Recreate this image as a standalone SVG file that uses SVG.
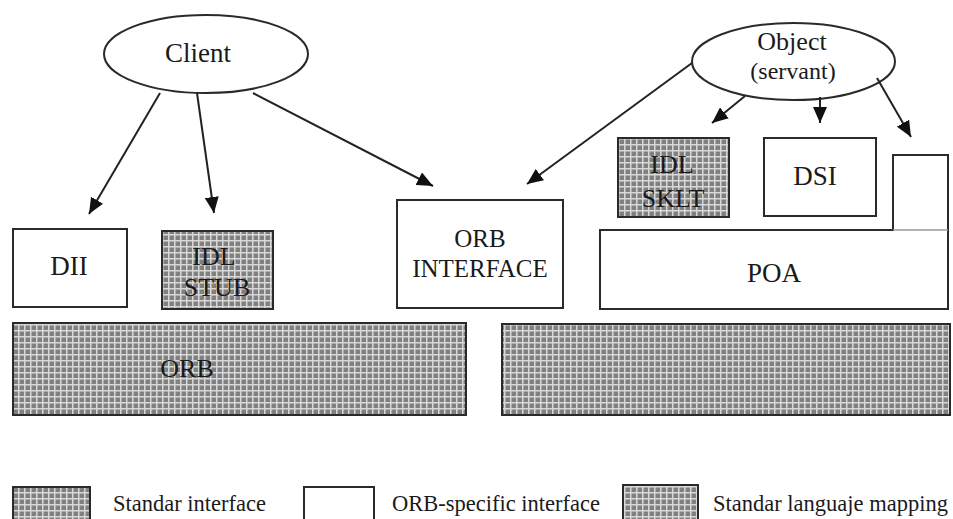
<svg xmlns="http://www.w3.org/2000/svg" width="953" height="519" viewBox="0 0 953 519">
  <style>
    .box { fill: #ffffff; stroke: #2a2a2a; stroke-width: 2; }
    .shade { fill: url(#mesh); stroke: #2a2a2a; stroke-width: 2; }
    .oval { fill: #ffffff; stroke: #2a2a2a; stroke-width: 2; }
    .lbl { font-family: "Liberation Serif", "Times New Roman", serif; fill: #1a1a1a; text-anchor: middle; }
    .leg { font-family: "Liberation Serif", "Times New Roman", serif; fill: #1a1a1a; font-size: 22.5px; }
    .conn line { stroke: #222222; stroke-width: 2; marker-end: url(#head); }
  </style>
  <defs>
    <!-- halftone mesh used for the shaded blocks -->
    <pattern id="mesh" width="6" height="6" patternUnits="userSpaceOnUse">
      <rect width="6" height="6" fill="#808080"/>
      <rect width="6" height="1.5" fill="#d8d8d8"/>
      <rect width="1.5" height="6" fill="#d8d8d8"/>
    </pattern>
    <marker id="head" viewBox="0 0 16 14" refX="16" refY="7" markerWidth="16" markerHeight="14" markerUnits="userSpaceOnUse" orient="auto">
      <path d="M0,0 L16,7 L0,14 z" fill="#111111"/>
    </marker>
  </defs>

  <rect width="953" height="519" fill="#ffffff"/>

  <!-- callers -->
  <g id="client">
    <ellipse class="oval" cx="206" cy="54" rx="102" ry="39"/>
    <text class="lbl" x="198" y="62" font-size="27">Client</text>
  </g>
  <g id="object">
    <ellipse class="oval" cx="793.5" cy="61.5" rx="101.5" ry="38.5"/>
    <text class="lbl" x="792" y="50" font-size="26">Object</text>
    <text class="lbl" x="793" y="79" font-size="24">(servant)</text>
  </g>

  <!-- client side -->
  <g id="dii">
    <rect class="box" x="13" y="229" width="114" height="78"/>
    <text class="lbl" x="69" y="275" font-size="27">DII</text>
  </g>
  <g id="idl-stub">
    <rect class="shade" x="162" y="231" width="111" height="78"/>
    <text class="lbl" x="214" y="265" font-size="26">IDL</text>
    <text class="lbl" x="217" y="296" font-size="26">STUB</text>
  </g>
  <g id="orb-interface">
    <rect class="box" x="397" y="200" width="166" height="108"/>
    <text class="lbl" x="480" y="247" font-size="25">ORB</text>
    <text class="lbl" x="480" y="277" font-size="25">INTERFACE</text>
  </g>

  <!-- server side -->
  <g id="idl-sklt">
    <rect class="shade" x="618" y="138" width="111" height="79"/>
    <text class="lbl" x="672" y="173" font-size="26">IDL</text>
    <text class="lbl" x="673" y="207" font-size="26">SKLT</text>
  </g>
  <g id="dsi">
    <rect class="box" x="764" y="138" width="112" height="78"/>
    <text class="lbl" x="815" y="185" font-size="27">DSI</text>
  </g>
  <g id="poa">
    <path class="box" d="M600,230 H893 V155 H948 V309 H600 Z"/>
    <line x1="893" y1="230" x2="948" y2="230" stroke="#9a9a9a" stroke-width="1.5"/>
    <text class="lbl" x="774" y="282" font-size="27">POA</text>
  </g>

  <!-- ORB core -->
  <g id="orb-left">
    <rect class="shade" x="13" y="323" width="453" height="92"/>
    <text class="lbl" x="187" y="377" font-size="26">ORB</text>
  </g>
  <g id="orb-right">
    <rect class="shade" x="502" y="324" width="448" height="91"/>
  </g>

  <!-- connectors -->
  <g id="connectors" class="conn">
    <line x1="160" y1="93" x2="89" y2="214"/>
    <line x1="197" y1="93" x2="214" y2="213"/>
    <line x1="253" y1="93" x2="433" y2="186"/>
    <line x1="692" y1="63" x2="527" y2="184"/>
    <line x1="745" y1="96" x2="712" y2="123"/>
    <line x1="820" y1="97" x2="820" y2="123"/>
    <line x1="877" y1="78" x2="911" y2="137"/>
  </g>

  <!-- legend -->
  <g id="legend">
    <g id="legend-standard">
      <rect x="13" y="487" width="77" height="32" fill="url(#mesh)"/>
      <path d="M13,519 V487 H90 V519" fill="none" stroke="#2a2a2a" stroke-width="2"/>
      <text class="leg" x="113" y="511">Standar interface</text>
    </g>
    <g id="legend-orb-specific">
      <path d="M304,519 V487 H374 V519" fill="#ffffff" stroke="#2a2a2a" stroke-width="2"/>
      <text class="leg" x="392" y="511">ORB-specific interface</text>
    </g>
    <g id="legend-mapping">
      <rect x="623" y="485" width="75" height="34" fill="url(#mesh)"/>
      <path d="M623,519 V485 H698 V519" fill="none" stroke="#2a2a2a" stroke-width="2"/>
      <text class="leg" x="713" y="511">Standar languaje mapping</text>
    </g>
  </g>
</svg>
